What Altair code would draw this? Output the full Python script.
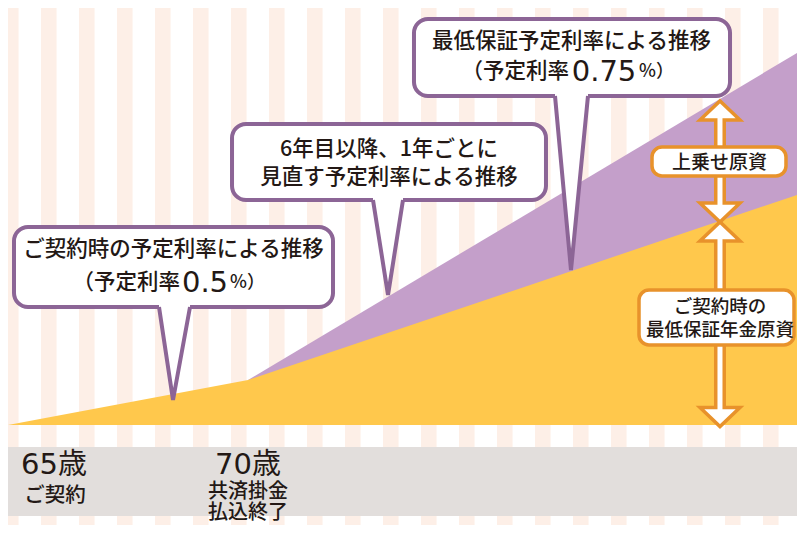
import altair as alt
import pandas as pd

# ---------------- data (x = age, y = relative fund size) ----------------
X_DOMAIN = [65, 81.4375]
Y_DOMAIN = [-100, 417]

ages_yellow = [65, 70, 81.4375]
vals_yellow = [0, 45, 230]          # minimum guaranteed pension fund
ages_purple = [70, 81.4375]
vals_purple = [45, 372]             # with additional fund on top

# background stripes (own index scale)
stripe_index = list(range(22))
stripe_width = 0.41
STRIPE_DOMAIN = [0.1316, 20.895]

# grey age band
band_top, band_bottom = -22, -91

# speech-bubble callouts
callout_x1 = [65.125, 69.667, 73.458]
callout_x2 = [71.771, 76.208, 80.042]
callout_top = [198, 301, 406]
callout_bot = [118, 225, 329]
tail_left = [68.146, 72.604, 76.396]
tail_right = [68.792, 73.229, 77.083]
tail_tip_x = [68.4375, 72.917, 76.729]
tail_tip_y = [25, 130, 155]

# orange double arrows
arrow_x = 79.833
heads_up_y = [314.5, 193.5]
heads_down_y = [212.5, 8]
shaft_top = [305, 184]
shaft_bot = [222, 18]
inner_top = [309, 188]
inner_bot = [218, 14]

# orange label boxes
box_x1 = [78.417, 78.146]
box_x2 = [81.208, 81.375]
box_top = [278, 135]
box_bot = [249, 80]

# texts
cjk_labels = ["ご契約時の予定利率による推移", "6年目以降、1年ごとに", "見直す予定利率による推移",
              "最低保証予定利率による推移", "上乗せ原資", "ご契約時の", "最低保証年金原資",
              "ご契約", "共済掛金", "払込終了"]
cjk_x = [68.448, 72.9375, 72.9375, 76.74, 79.823, 79.833, 79.833, 65.979, 70.0, 70.0]
cjk_y = [175, 275, 247, 383, 262.5, 118, 95, -71, -67, -88]
cjk_size = [21.5, 21.5, 21.5, 21.5, 19, 18.5, 18.5, 20.5, 20, 20]

paren_labels = ["（予定利率", "（予定利率"]
paren_x = [68.583, 76.6875]
rate_labels = ["0.5", "0.75"]
rate_x = [69.104, 77.417]
pct_labels = ["%）", "%）"]
pct_x = [69.625, 78.146]
rate_y = [142, 353]

age_labels = ["65歳", "70歳"]
age_x = [65.958, 70.0]
age_y = [-40, -40]

# ---------------- styling ----------------
YELLOW = "#FFC84C"
PURPLE_FILL = "#C49FCA"
PURPLE_LINE = "#8C6596"
ORANGE = "#E8922B"
STRIPE = "#FDEFE7"
BAND = "#E2DEDC"
INK = "#231815"
CJK = "Noto Sans CJK JP"

xs = alt.Scale(domain=X_DOMAIN, nice=False, zero=False)
ys = alt.Scale(domain=Y_DOMAIN, nice=False, zero=False)


def X(f):
    return alt.X(f, type="quantitative", scale=xs, axis=None)


def X2(f):
    return alt.X2(f)


def Y(f):
    return alt.Y(f, type="quantitative", scale=ys, axis=None)


def Y2(f):
    return alt.Y2(f)


# ---------------- layers ----------------
stripes_df = pd.DataFrame({"k": stripe_index})
stripes_df["k2"] = stripes_df["k"] + stripe_width
stripes = alt.Chart(stripes_df).mark_rect(color=STRIPE, clip=True).encode(
    x=alt.X("k:Q", scale=alt.Scale(domain=STRIPE_DOMAIN, nice=False, zero=False), axis=None),
    x2="k2:Q",
)

band = alt.Chart(pd.DataFrame({"t": [band_top], "b": [band_bottom]})).mark_rect(color=BAND).encode(
    y=Y("t"), y2=Y2("b")
)

purple = alt.Chart(pd.DataFrame({"age": ages_purple, "v": vals_purple, "z": [0, 0]})).mark_area(
    color=PURPLE_FILL, opacity=1
).encode(x=X("age"), y=Y("v"), y2=Y2("z"))

yellow = alt.Chart(pd.DataFrame({"age": ages_yellow, "v": vals_yellow, "z": [0, 0, 0]})).mark_area(
    color=YELLOW, opacity=1
).encode(x=X("age"), y=Y("v"), y2=Y2("z"))

callout_df = pd.DataFrame({"x1": callout_x1, "x2": callout_x2, "t": callout_top, "b": callout_bot})
callouts = alt.Chart(callout_df).mark_rect(
    fill="white", stroke=PURPLE_LINE, strokeWidth=4, cornerRadius=14, opacity=1
).encode(x=X("x1"), x2=X2("x2"), y=Y("t"), y2=Y2("b"))

tail_rows, area_rows = [], []
for i in range(3):
    base = callout_bot[i]
    tail_rows += [
        {"id": i, "o": 0, "x": tail_left[i], "y": base},
        {"id": i, "o": 1, "x": tail_tip_x[i], "y": tail_tip_y[i]},
        {"id": i, "o": 2, "x": tail_right[i], "y": base},
    ]
    area_rows += [
        {"id": i, "x": tail_left[i], "top": base + 4, "y": base},
        {"id": i, "x": tail_tip_x[i], "top": base + 4, "y": tail_tip_y[i]},
        {"id": i, "x": tail_right[i], "top": base + 4, "y": base},
    ]
tail_fill = alt.Chart(pd.DataFrame(area_rows)).mark_area(color="white", opacity=1).encode(
    x=X("x"), y=Y("top"), y2=Y2("y"), detail="id:N"
)
tail_line = alt.Chart(pd.DataFrame(tail_rows)).mark_line(
    color=PURPLE_LINE, strokeWidth=4, strokeJoin="miter"
).encode(x=X("x"), y=Y("y"), detail="id:N", order="o:Q")

shaft_df = pd.DataFrame({"x": [arrow_x] * 2, "t": shaft_top, "b": shaft_bot})
inner_df = pd.DataFrame({"x": [arrow_x] * 2, "t": inner_top, "b": inner_bot})
shafts = alt.Chart(shaft_df).mark_rule(color=ORANGE, strokeWidth=12).encode(
    x=X("x"), y=Y("t"), y2=Y2("b")
)
inner = alt.Chart(inner_df).mark_rule(color="white", strokeWidth=5).encode(
    x=X("x"), y=Y("t"), y2=Y2("b")
)
UP = "M-1,0.475L0,-0.475L1,0.475Z"
DOWN = "M-1,-0.475L0,0.475L1,-0.475Z"
heads_up = alt.Chart(pd.DataFrame({"x": [arrow_x] * 2, "y": heads_up_y})).mark_point(
    shape=UP, size=1600, filled=True, fill="white", stroke=ORANGE, strokeWidth=3.5, opacity=1
).encode(x=X("x"), y=Y("y"))
heads_down = alt.Chart(pd.DataFrame({"x": [arrow_x] * 2, "y": heads_down_y})).mark_point(
    shape=DOWN, size=1600, filled=True, fill="white", stroke=ORANGE, strokeWidth=3.5, opacity=1
).encode(x=X("x"), y=Y("y"))

boxes = alt.Chart(pd.DataFrame({"x1": box_x1, "x2": box_x2, "t": box_top, "b": box_bot})).mark_rect(
    fill="white", stroke=ORANGE, strokeWidth=3.5, cornerRadius=10, opacity=1
).encode(x=X("x1"), x2=X2("x2"), y=Y("t"), y2=Y2("b"))

cjk_text = alt.Chart(pd.DataFrame({"t": cjk_labels, "x": cjk_x, "y": cjk_y, "s": cjk_size})).mark_text(
    font=CJK, fontWeight=500, color=INK, align="center", baseline="middle"
).encode(x=X("x"), y=Y("y"), text="t:N", size=alt.Size("s:Q", scale=None, legend=None))

paren_text = alt.Chart(pd.DataFrame({"t": paren_labels, "x": paren_x, "y": rate_y})).mark_text(
    font=CJK, fontWeight=500, fontSize=21.5, color=INK, align="right", baseline="middle"
).encode(x=X("x"), y=Y("y"), text="t:N")

rate_text = alt.Chart(pd.DataFrame({"t": rate_labels, "x": rate_x, "y": rate_y})).mark_text(
    font="DejaVu Sans", fontSize=29, color=INK, align="center", baseline="middle"
).encode(x=X("x"), y=Y("y"), text="t:N")

pct_text = alt.Chart(pd.DataFrame({"t": pct_labels, "x": pct_x, "y": rate_y})).mark_text(
    font=CJK, fontWeight=500, fontSize=18, color=INK, align="left", baseline="middle"
).encode(x=X("x"), y=Y("y"), text="t:N")

age_text = alt.Chart(pd.DataFrame({"t": age_labels, "x": age_x, "y": age_y})).mark_text(
    font="DejaVu Sans, Noto Sans CJK JP", fontSize=29, color=INK, align="center", baseline="middle"
).encode(x=X("x"), y=Y("y"), text="t:N")

chart = alt.layer(
    stripes, band, purple, yellow,
    callouts, tail_fill, tail_line,
    shafts, heads_up, heads_down, inner,
    boxes,
    cjk_text, paren_text, rate_text, pct_text, age_text,
).resolve_scale(x="independent").properties(
    width=789, height=517, padding=0, background="white",
    autosize=alt.AutoSizeParams(type="none"),
).configure_view(stroke=None)

chart.save("out.html", embed_options={"renderer": "svg", "actions": False})
